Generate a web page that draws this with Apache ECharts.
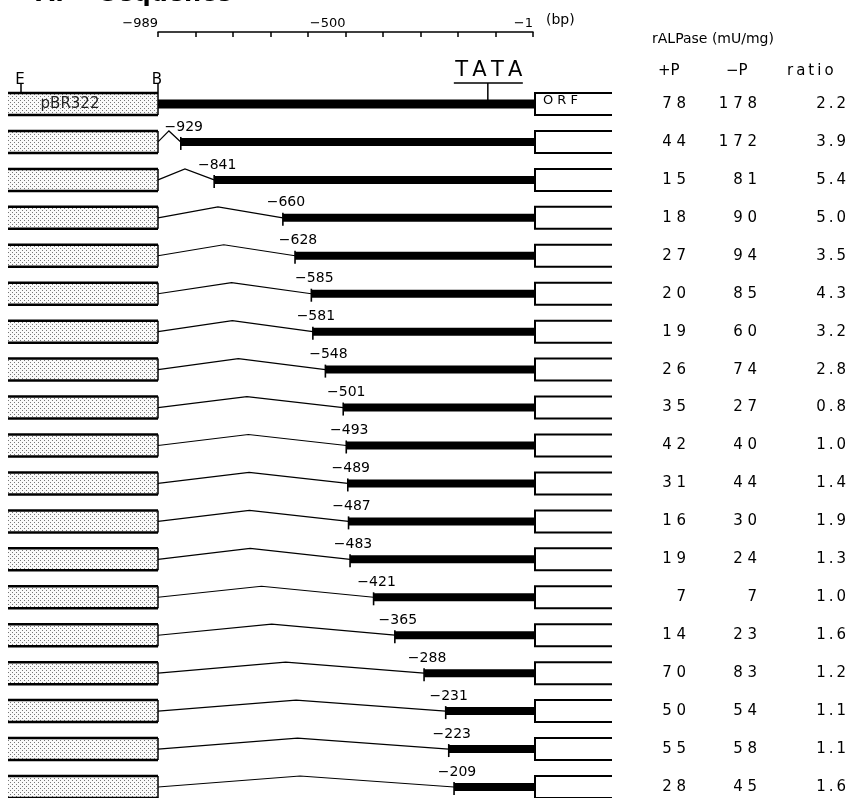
<!DOCTYPE html>
<html><head><meta charset="utf-8">
<script src="https://cdn.jsdelivr.net/npm/echarts@6/dist/echarts.min.js"></script>
<style>html,body{margin:0;padding:0;background:#fff}#c{width:849px;height:798px}</style>
</head><body><div id="c"></div>
<script>
// ---- data ----
const deletionStarts = [-989, -929, -841, -660, -628, -585, -581, -548, -501, -493, -489, -487, -483, -421, -365, -288, -231, -223, -209];
const plusP  = [78, 44, 15, 18, 27, 20, 19, 26, 35, 42, 31, 16, 19, 7, 14, 70, 50, 55, 28];
const minusP = [178, 172, 81, 90, 94, 85, 60, 74, 27, 40, 44, 30, 24, 7, 23, 83, 54, 58, 45];
const ratios = [2.2, 3.9, 5.4, 5.0, 3.5, 4.3, 3.2, 2.8, 0.8, 1.0, 1.4, 1.9, 1.3, 1.0, 1.6, 1.2, 1.1, 1.1, 1.6];
const rulerMin = -989, rulerMax = -1, rulerInterval = 98.8;
const rulerTickLabels = ['-989', '-500', '-1'];   // at ticks 0, 5, 10
const tataPos = -120;

const FONT = "'DejaVu Sans', 'Liberation Sans', sans-serif";
const mn = s => String(s).replace('-', '\u2212');
const spaced = n => String(n).split('').join(' ');
const thin = s => String(s).split('').join('\u2009');

// stipple pattern for the pBR322 boxes
const pc = document.createElement('canvas'); pc.width = 4; pc.height = 4;
const g = pc.getContext('2d');
g.fillStyle = '#fafafa'; g.fillRect(0, 0, 4, 4);
g.fillStyle = '#777'; g.fillRect(0, 0, 1, 1); g.fillRect(2, 2, 1, 1);
const stipple = { image: pc, repeat: 'repeat' };

const rows = deletionStarts.map((s, i) => [s, i]);

function txt(x, y, text, size, align, vAlign, color) {
  return { type: 'text', x: x, y: y, silent: true,
    style: { text: text, font: size + 'px ' + FONT, fill: color || '#000', align: align || 'left', verticalAlign: vAlign || 'middle' } };
}
function line(points, w) {
  return { type: 'polyline', silent: true, shape: { points: points }, style: { fill: null, stroke: '#000', lineWidth: w || 1.5 } };
}

function renderRow(params, api) {
  const start = api.value(0), i = api.value(1);
  const pB = api.coord([rulerMin, i]);
  const xB = pB[0], cy = pB[1];
  const xS = api.coord([start, i])[0];
  const xE = api.coord([rulerMax, i])[0];
  const boxL = xB - 150, orfL = xE + 2, orfR = 612, half = 11;
  const ch = [];
  // pBR322 stippled box
  ch.push({ type: 'rect', silent: true, shape: { x: boxL, y: cy - half, width: xB - boxL, height: 2 * half }, style: { fill: stipple } });
  ch.push(line([[boxL, cy - half], [xB, cy - half]], 2.5));
  ch.push(line([[boxL, cy + half], [xB, cy + half]], 2.5));
  ch.push(line([[xB, cy - half], [xB, cy + half]], 1.5));
  if (i === 0) {
    ch.push({ type: 'rect', silent: true, shape: { x: xB, y: cy - 4.5, width: xE - xB + 2, height: 9 }, style: { fill: '#000' } });
    ch.push(txt(boxL + 62, cy, 'pBR322', 15, 'center', 'middle', '#222'));
    // E / B markers
    ch.push(line([[boxL + 13, cy - half - 9], [boxL + 13, cy - half]], 1.5));
    ch.push(txt(boxL + 12, cy - half - 13, 'E', 15, 'center', 'middle'));
    ch.push(line([[xB, cy - half - 9], [xB, cy - half]], 1.5));
    ch.push(txt(xB - 1, cy - half - 13, 'B', 15, 'center', 'middle'));
    // TATA
    const xT = api.coord([tataPos, i])[0];
    ch.push(txt(xT + 1, cy - 33, thin('TATA'), 21, 'center', 'middle'));
    ch.push(line([[xT - 34, cy - 21], [xT + 35, cy - 21]], 1.5));
    ch.push(line([[xT, cy - 21], [xT, cy - 4]], 1.5));
    ch.push(txt(orfL + 8, cy - 3, 'O R F', 13, 'left', 'middle'));
  } else {
    const px = xB + (xS - xB) * 0.48;
    ch.push(line([[xB, cy], [px, cy - 11], [xS, cy]], 1.2));
    ch.push({ type: 'rect', silent: true, shape: { x: xS, y: cy - 4, width: xE - xS + 2, height: 8 }, style: { fill: '#000' } });
    ch.push(line([[xS, cy - 5], [xS, cy + 8]], 1.6));
    ch.push(txt(xS + 3, cy - 8, mn(start), 14, 'center', 'bottom'));
  }
  // ORF open box
  ch.push(line([[orfR, cy - half], [orfL, cy - half], [orfL, cy + half], [orfR, cy + half]], 2));
  // table values
  ch.push(txt(686, cy, spaced(plusP[i]), 15, 'right', 'middle'));
  ch.push(txt(757, cy, spaced(minusP[i]), 15, 'right', 'middle'));
  ch.push(txt(846, cy, thin(ratios[i].toFixed(1)), 15, 'right', 'middle'));
  return { type: 'group', children: ch };
}

const chart = echarts.init(document.getElementById('c'), null, { renderer: 'canvas' });
chart.setOption({
  animation: false,
  backgroundColor: '#fff',
  grid: [
    { left: 158, width: 375, top: 31, height: 1 },
    { left: 158, width: 375, top: 104, height: 683 }
  ],
  xAxis: [
    { gridIndex: 0, type: 'value', position: 'top', min: rulerMin, max: rulerMax, interval: rulerInterval,
      axisLine: { show: true, lineStyle: { color: '#000', width: 1.5 } },
      axisTick: { show: true, inside: true, length: 5, lineStyle: { color: '#000', width: 1.5 } },
      splitLine: { show: false },
      axisLabel: { show: true, showMinLabel: true, showMaxLabel: true, margin: 1, align: 'right',
        fontFamily: FONT, fontSize: 13, color: '#000',
        formatter: (v, idx) => idx === 0 ? mn(rulerTickLabels[0]) : idx === 5 ? mn(rulerTickLabels[1]) : idx === 10 ? mn(rulerTickLabels[2]) : '' } },
    { gridIndex: 1, type: 'value', min: rulerMin, max: rulerMax, show: false }
  ],
  yAxis: [
    { gridIndex: 0, type: 'value', min: 0, max: 1, show: false },
    { gridIndex: 1, type: 'value', min: 0, max: deletionStarts.length - 1, inverse: true, show: false }
  ],
  graphic: [
    { type: 'text', left: 36, top: -17.5, silent: true, style: { text: 'A.', font: 'bold 24px ' + FONT, fill: '#000' } },
    { type: 'text', left: 100, top: -17.5, silent: true, style: { text: 'Sequence', font: 'bold 24px ' + FONT, fill: '#000' } },
    { type: 'text', left: 546, top: 13, silent: true, style: { text: '(bp)', font: '14px ' + FONT, fill: '#000' } },
    { type: 'text', left: 652, top: 32, silent: true, style: { text: 'rALPase (mU/mg)', font: '14px ' + FONT, fill: '#000' } },
    { type: 'text', left: 658, top: 64, silent: true, style: { text: '+P', font: '15px ' + FONT, fill: '#000' } },
    { type: 'text', left: 726, top: 64, silent: true, style: { text: '\u2212P', font: '15px ' + FONT, fill: '#000' } },
    { type: 'text', left: 787, top: 64, silent: true, style: { text: thin('ratio'), font: '15px ' + FONT, fill: '#000' } }
  ],
  series: [
    { type: 'custom', xAxisIndex: 1, yAxisIndex: 1, coordinateSystem: 'cartesian2d', clip: false,
      renderItem: renderRow, data: rows, silent: true }
  ]
});
</script></body></html>
